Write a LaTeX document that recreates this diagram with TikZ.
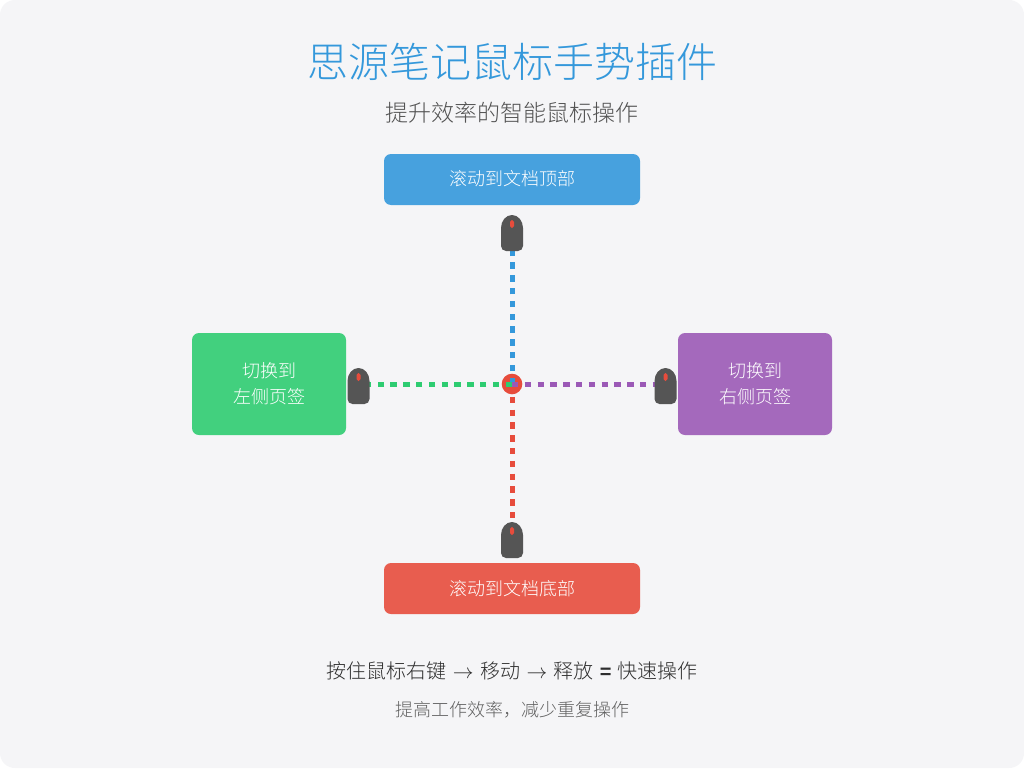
\documentclass[tikz,border=0pt]{standalone}
\usepackage{fontspec}
\setmainfont{Noto Sans CJK SC}[UprightFont={* Light}]
\newfontfamily\arr{Liberation Sans}
\definecolor{bgc}{HTML}{F5F5F7}
\definecolor{bluec}{HTML}{3498DB}
\definecolor{greenc}{HTML}{2ECC71}
\definecolor{purplec}{HTML}{9B59B6}
\definecolor{redc}{HTML}{E74C3C}
\definecolor{mousec}{HTML}{555555}
\tikzset{
  actbox/.style={minimum width=#1,inner sep=0pt,align=center,text=white,font=\fontsize{18}{26}\selectfont},
  panel/.style={rounded corners=7pt},
  gest/.style={line width=5pt,dash pattern=on 6.4pt off 6.4pt},
  txt/.style={inner sep=0pt,anchor=center},
}
\newcommand{\mousepic}[3]{% centre x, top y, name
  \fill[mousec] (#1-11,#2+13) arc[start angle=180,end angle=360,x radius=11,y radius=13] -- (#1+11,#2+31) arc[start angle=0,end angle=90,radius=5] -- (#1-6,#2+36) arc[start angle=90,end angle=180,radius=5] -- cycle;
  \fill[redc,rounded corners=1.9pt] (#1-2,#2+5) rectangle (#1+2,#2+13);
  \coordinate (#3) at (#1,#2+18);
}
\newcommand{\arw}{\hspace{6.5pt}$\rightarrow$\hspace{6.5pt}}
\begin{document}
\begin{tikzpicture}[x=1pt,y=-1pt]
\useasboundingbox (0,0) rectangle (1024,768);
\fill[white] (0,0) rectangle (1024,768);
\fill[bgc,rounded corners=15pt] (0,0) rectangle (1024,768);
\node[txt,text=bluec,font=\fontsize{41}{48}\selectfont] (title) at (512,62) {思源笔记鼠标手势插件};
\node[txt,text=black!68,font=\fontsize{23}{28}\selectfont] (sub) at (512,113) {提升效率的智能鼠标操作};
\coordinate (c) at (512,384);
\coordinate (ct) at (512,251);
\coordinate (cb) at (512,522);
\coordinate (cl) at (348,384);
\coordinate (cr) at (676,384);
\fill[redc] (c) circle (10.3);
\draw[gest,bluec] (c) -- (ct);
\draw[gest,redc] (c) -- (cb);
\draw[gest,greenc] (c) -- (cl);
\draw[gest,purplec] (c) -- (cr);
\fill[bluec!90!bgc,panel] (384,154) rectangle (640,205);
\fill[greenc!90!bgc,panel] (192,333) rectangle (346,435);
\fill[purplec!90!bgc,panel] (678,333) rectangle (832,435);
\fill[redc!90!bgc,panel] (384,563) rectangle (640,614);
\node[actbox=256pt] (top) at (512,179) {滚动到文档顶部};
\node[actbox=154pt] (left) at (269,384) {切换到\\左侧页签};
\node[actbox=154pt] (right) at (755,384) {切换到\\右侧页签};
\node[actbox=256pt] (bottom) at (512,589) {滚动到文档底部};
\mousepic{512}{215}{mt}
\mousepic{358.5}{368}{ml}
\mousepic{665.5}{368}{mr}
\mousepic{512}{522}{mb}
\node[txt,text=black!82,font=\fontsize{20}{26}\selectfont] (hint) at (512,671) {按住鼠标右键\arw 移动\arw 释放\hspace{6pt}{\arr\bfseries =}\hspace{6pt}快速操作};
\node[txt,text=black!62,font=\fontsize{18}{24}\selectfont] (note) at (512,710) {提高工作效率，减少重复操作};
\end{tikzpicture}
\end{document}
